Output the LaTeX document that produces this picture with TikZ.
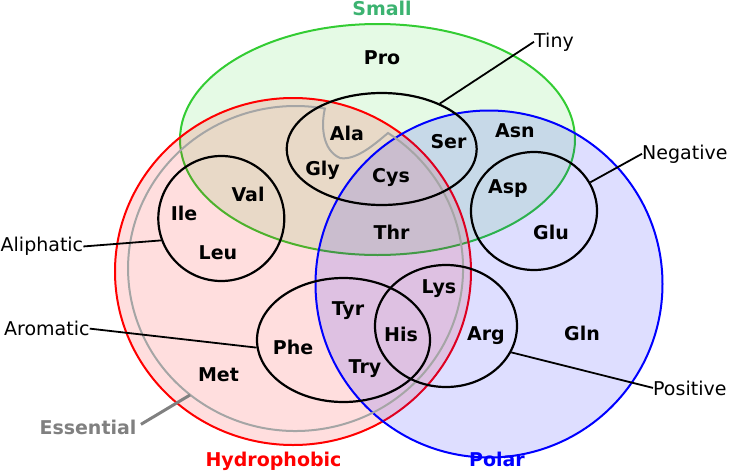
\documentclass[tikz,border=0pt]{standalone}
\usepackage{fontspec}
\setmainfont{DejaVu Sans}
\usepackage{xcolor}
\usepackage{tikz}
\usetikzlibrary{shapes.geometric}
\definecolor{smallline}{RGB}{51,204,51}
\definecolor{smallfill}{RGB}{0,204,0}
\definecolor{smalltext}{RGB}{60,179,113}
\definecolor{essline}{RGB}{165,165,165}
\definecolor{esstext}{RGB}{128,128,128}
\tikzstyle{set} = [ellipse, inner sep=0pt, line width=2pt]
\tikzstyle{subset} = [ellipse, inner sep=0pt, line width=2.2pt, draw=black]
\tikzstyle{acid} = [anchor=base, inner sep=0pt, font=\fontsize{19}{23}\selectfont\bfseries]
\tikzstyle{tag} = [anchor=base west, inner sep=0pt, font=\fontsize{19}{23}\selectfont]
\tikzstyle{leader} = [line width=1.8pt]

\begin{document}
\begin{tikzpicture}[x=1pt, y=-1pt]
      \useasboundingbox (0,0) rectangle (729,472);
      %三个大集合
      \node[set, draw=smallline, fill=smallfill, fill opacity=0.1, minimum width=395pt, minimum height=231pt](small) at (377.5,139.5){};
      \node[set, draw=red, fill=red, fill opacity=0.13, minimum width=356pt, minimum height=347pt](hydro) at (293,271.5){};
      \node[set, draw=blue, fill=blue, fill opacity=0.13, minimum width=347pt, minimum height=347pt](polar) at (489,284){};
      %Essential
      \draw[essline, line width=2pt] (388,133) arc[start angle=-56.5, end angle=280.1, x radius=167.5, y radius=162.5]
            .. controls (321,125) and (322,150) .. (340,158) .. controls (356,161) and (376,143) .. cycle;
      %小集合
      \node[subset, minimum width=190pt, minimum height=112pt](tiny) at (381.7,149){};
      \node[subset, minimum width=126pt, minimum height=125pt](aliph) at (221.3,218.5){};
      \node[subset, minimum width=126pt, minimum height=118pt](negative) at (534,211){};
      \node[subset, minimum width=173pt, minimum height=124pt](arom) at (343.5,340){};
      \node[subset, minimum width=142pt, minimum height=122pt](positive) at (446,326){};
      %氨基酸
      \node[acid](pro) at (382,64){Pro};
      \node[acid](ala) at (347,140){Ala};
      \node[acid](ser) at (448.5,148){Ser};
      \node[acid](asn) at (515,137){Asn};
      \node[acid](gly) at (322.5,175){Gly};
      \node[acid](cys) at (391,182){Cys};
      \node[acid](val) at (248,201){Val};
      \node[acid](ile) at (184,220){Ile};
      \node[acid](leu) at (218,259){Leu};
      \node[acid](thr) at (391.5,239){Thr};
      \node[acid](asp) at (508,193){Asp};
      \node[acid](glu) at (551,239){Glu};
      \node[acid](lys) at (439,293){Lys};
      \node[acid](tyr) at (348,315){Tyr};
      \node[acid](his) at (401,341){His};
      \node[acid](arg) at (486,340){Arg};
      \node[acid](gln) at (582,340){Gln};
      \node[acid](phe) at (293,354){Phe};
      \node[acid](try) at (365,373){Try};
      \node[acid](met) at (218.5,381){Met};
      %集合名称
      \node[acid, text=smalltext](smalllab) at (382,15){Small};
      \node[acid, text=red](hydrolab) at (273.5,466){Hydrophobic};
      \node[acid, text=blue](polarlab) at (497,466){Polar};
      \node[acid, text=esstext](esslab) at (88,434){Essential};
      \node[tag](tinylab) at (534,47){Tiny};
      \node[tag](neglab) at (642,159){Negative};
      \node[tag](poslab) at (653,395){Positive};
      \node[tag](aliphlab) at (0.5,251.7){Aliphatic};
      \node[tag](aromlab) at (4,335.7){Aromatic};
      \coordinate (esspoint) at (190,395);
      %引线
      \draw [leader] (tiny.38) -- (tinylab.west);
      \draw [leader] (negative.27) -- (neglab.west);
      \draw [leader] (positive.-22) -- (poslab.west);
      \draw [leader] (aliphlab.east) -- (aliph.200);
      \draw [leader] (aromlab.east) -- (arom.185);
      \draw [esstext, line width=3pt, shorten <=5pt] (esslab.east) -- (esspoint);
    \end{tikzpicture}
\end{document}
